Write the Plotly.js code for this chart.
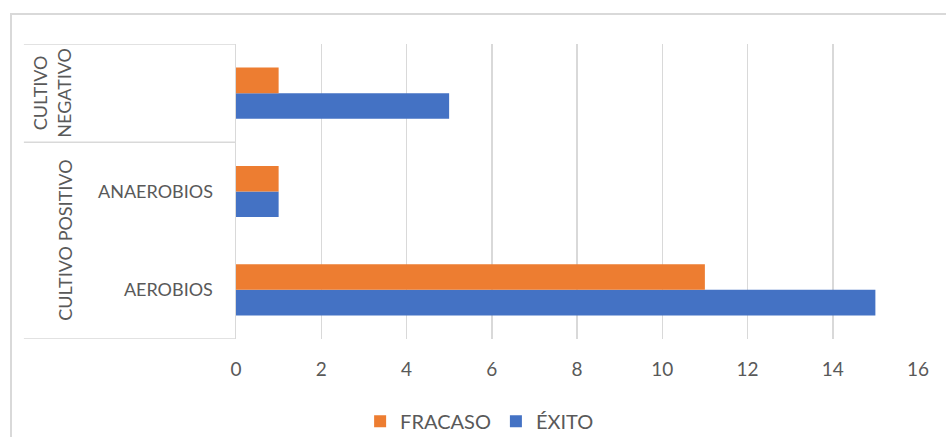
<!DOCTYPE html>
<html>
<head>
<meta charset="utf-8">
<script src="https://cdn.plot.ly/plotly-3.0.1.min.js"></script>
<style>
  html, body { margin: 0; padding: 0; background: #ffffff; }
  #chart { width: 946px; height: 437px; }
</style>
</head>
<body>
<div id="chart"></div>
<script>
// Row labels (bottom to top) and their outer grouping
const rowLabels = ['AEROBIOS', 'ANAEROBIOS', ''];
const groupLabels = ['CULTIVO POSITIVO', 'CULTIVO<br>NEGATIVO'];
const groupSpans = [[0, 1], [2, 2]];   // first and last row of each group

// Series values, one per row
const exito = [15, 1, 5];
const fracaso = [11, 1, 1];

const xTicks = [0, 2, 4, 6, 8, 10, 12, 14, 16];

const rows = rowLabels.map((_, i) => i);
const textColor = '#595959';
const gridColor = '#d9d9d9';
const font = 'Lato, "Open Sans", sans-serif';

const traces = [
  {
    type: 'bar', orientation: 'h', name: 'ÉXITO',
    x: exito, y: rows,
    marker: { color: '#4472C4', line: { width: 0 } },
    hoverinfo: 'x+name'
  },
  {
    type: 'bar', orientation: 'h', name: 'FRACASO',
    x: fracaso, y: rows,
    marker: { color: '#ED7D31', line: { width: 0 } },
    hoverinfo: 'x+name'
  }
];

// Frame lines of the two-level category axis
const shapes = [
  // outer chart border
  { type: 'rect', xref: 'paper', yref: 'paper', x0: -0.3299, x1: 1.3, y0: -0.6, y1: 1.1017,
    line: { color: gridColor, width: 2 }, fillcolor: 'rgba(0,0,0,0)', layer: 'below' }
];
const boundaries = [-0.5];
groupSpans.forEach(s => boundaries.push(s[1] + 0.5));
boundaries.forEach(b => {
  shapes.push({ type: 'line', xref: 'paper', yref: 'y', x0: -0.311, x1: 0, y0: b, y1: b,
    line: { color: gridColor, width: 1.5 } });
});

const annotations = groupLabels.map((g, i) => {
  const s = groupSpans[i];
  const twoLine = g.indexOf('<br>') >= 0;
  return {
    xref: 'paper', yref: 'y',
    x: twoLine ? -0.2705 : -0.2507,
    y: (s[0] + s[1]) / 2,
    text: g, textangle: -90, showarrow: false,
    xanchor: 'center', yanchor: 'middle', align: 'center',
    font: { family: font, size: 18, color: textColor }
  };
});

const layout = {
  width: 946, height: 437,
  margin: { l: 236, r: 28, t: 44, b: 98 },
  paper_bgcolor: '#ffffff', plot_bgcolor: '#ffffff',
  barmode: 'group', bargap: 0.48, bargroupgap: 0,
  font: { family: font, size: 18, color: textColor },
  xaxis: {
    range: [0, 16], tickvals: xTicks, ticktext: xTicks.map(String),
    showgrid: true, gridcolor: gridColor, gridwidth: 1.5,
    zeroline: false, showline: false,
    ticks: 'outside', ticklen: 13, tickcolor: 'rgba(0,0,0,0)',
    tickfont: { family: font, size: 19, color: textColor },
    fixedrange: true
  },
  yaxis: {
    range: [-0.5, rows.length - 0.5],
    tickvals: rows, ticktext: rowLabels,
    showgrid: false, zeroline: false,
    showline: true, linecolor: gridColor, linewidth: 1.5,
    ticks: 'outside', ticklen: 18, tickcolor: 'rgba(0,0,0,0)',
    tickfont: { family: font, size: 18, color: textColor },
    fixedrange: true
  },
  legend: {
    orientation: 'h', traceorder: 'reversed',
    xref: 'container', yref: 'container',
    x: 0.507, y: 0.036, xanchor: 'center', yanchor: 'middle',
    font: { family: font, size: 20, color: textColor },
    itemclick: false, itemdoubleclick: false
  },
  shapes: shapes,
  annotations: annotations,
  showlegend: true
};

Plotly.newPlot('chart', traces, layout, { displayModeBar: false, staticPlot: true });
</script>
</body>
</html>
